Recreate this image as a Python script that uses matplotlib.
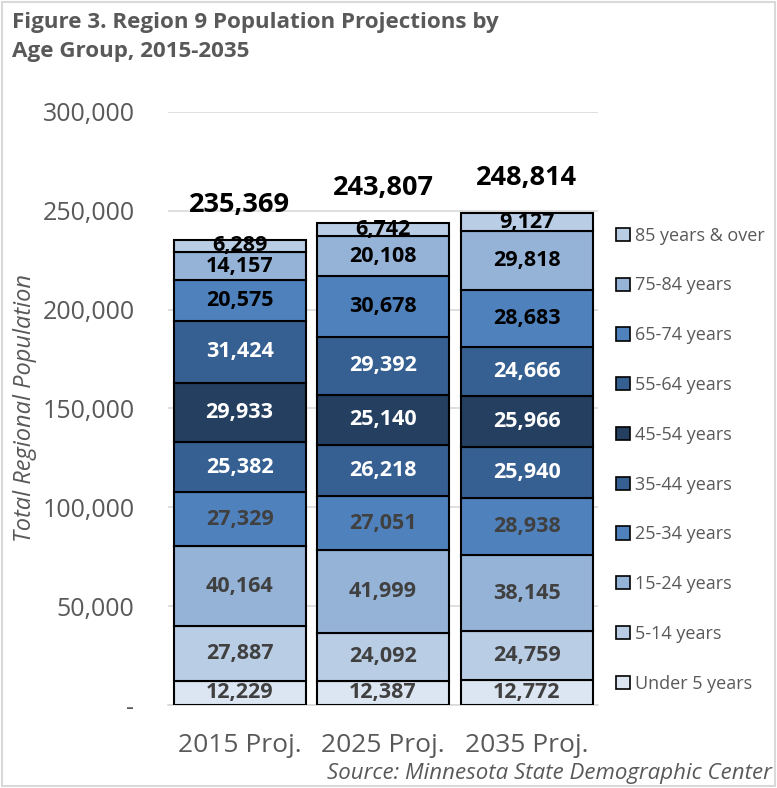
import matplotlib.pyplot as plt
from matplotlib.patches import Rectangle

plt.rcParams['font.family'] = ['Open Sans', 'DejaVu Sans']

years = ['2015 Proj.', '2025 Proj.', '2035 Proj.']
groups = ['Under 5 years', '5-14 years', '15-24 years', '25-34 years', '35-44 years',
          '45-54 years', '55-64 years', '65-74 years', '75-84 years', '85 years & over']
under5 = [12229, 12387, 12772]
age5_14 = [27887, 24092, 24759]
age15_24 = [40164, 41999, 38145]
age25_34 = [27329, 27051, 28938]
age35_44 = [25382, 26218, 25940]
age45_54 = [29933, 25140, 25966]
age55_64 = [31424, 29392, 24666]
age65_74 = [20575, 30678, 28683]
age75_84 = [14157, 20108, 29818]
age85 = [6289, 6742, 9127]
totals = [235369, 243807, 248814]

series = [under5, age5_14, age15_24, age25_34, age35_44,
          age45_54, age55_64, age65_74, age75_84, age85]
colors = ['#dce6f2', '#b9cde5', '#95b3d7', '#4f81bd', '#376092',
          '#243f60', '#376092', '#4f81bd', '#95b3d7', '#b9cde5']
txtcol = ['#404040', '#404040', '#404040', '#404040', 'white',
          'white', 'white', 'black', 'black', 'black']

fig = plt.figure(figsize=(7.77, 7.88), dpi=100)
ax = fig.add_axes([0.216, 0.1053, 0.554, 0.7527])

x = range(len(years))
bottom = [0, 0, 0]
handles = []
for i in range(len(series)):
    b = ax.bar(x, series[i], bottom=bottom, width=0.92, color=colors[i],
               edgecolor='black', linewidth=1.5, label=groups[i], zorder=3)
    handles.append(b)
    for j in range(len(years)):
        ax.text(j, bottom[j] + series[i][j] / 2, '{:,}'.format(series[i][j]),
                ha='center', va='center', fontsize=15.5, fontweight='bold',
                color=txtcol[i], zorder=4)
    bottom = [bottom[k] + series[i][k] for k in range(3)]

for j in range(len(years)):
    ax.annotate('{:,}'.format(totals[j]), (j, totals[j]), xytext=(0, 25),
                textcoords='offset points', ha='center', va='center',
                fontsize=19.5, fontweight='bold', color='black')

ax.set_xlim(-0.5, 2.5)
ax.set_ylim(0, 300000)
ax.set_yticks(range(0, 300001, 50000))
ax.set_yticklabels(['-'] + ['{:,}'.format(v) for v in range(50000, 300001, 50000)],
                   fontsize=18, color='#595959')
ax.set_xticks(list(x))
ax.set_xticklabels(years, fontsize=19, color='#595959')
ax.tick_params(axis='both', length=0)
ax.tick_params(axis='y', pad=24)
ax.tick_params(axis='x', pad=20)
ax.grid(axis='y', color='#d9d9d9', linewidth=1.2, zorder=0)
for s in ['top', 'right', 'left']:
    ax.spines[s].set_visible(False)
ax.spines['bottom'].set_color('#d9d9d9')
ax.spines['bottom'].set_linewidth(1.2)

ax.set_ylabel('Total Regional Population', fontsize=17, style='italic',
              color='#595959')
ax.yaxis.set_label_coords(-0.305, 0.5)

leg = fig.legend(handles[::-1], groups[::-1], loc='upper left',
                 bbox_to_anchor=(0.772, 0.733), frameon=False, fontsize=13,
                 labelcolor='#595959', handlelength=0.75, handleheight=0.75,
                 handletextpad=0.3, labelspacing=1.76)
for h in leg.legend_handles:
    h.set_linewidth(1.2)

fig.text(0.015, 0.985, 'Figure 3. Region 9 Population Projections by\nAge Group, 2015-2035',
         ha='left', va='top', fontsize=16.1, fontweight='bold', color='#595959',
         linespacing=1.5)
fig.text(0.993, 0.018, 'Source: Minnesota State Demographic Center', ha='right',
         va='center', fontsize=16, style='italic', color='#595959')

fig.add_artist(Rectangle((0.002, 0.002), 0.996, 0.996, transform=fig.transFigure,
                         fill=False, edgecolor='#d9d9d9', linewidth=1.5))

fig.savefig('out.png', dpi=100)
